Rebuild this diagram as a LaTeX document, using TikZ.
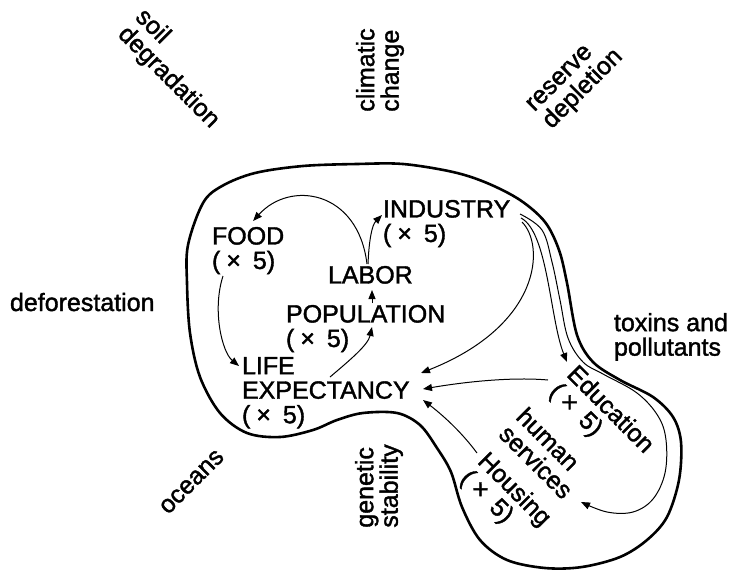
\documentclass[tikz,border=0pt]{standalone}
\usepackage{fontspec}
\setmainfont{Liberation Sans}[FakeBold=1.5]
\usetikzlibrary{arrows.meta,calc}
\newcommand\tfive{(\kern6pt×\kern12pt5)}
\begin{document}
\begin{tikzpicture}[x=1pt,y=-1pt,
  lbl/.style={inner sep=0pt, outer sep=0pt, align=left, font=\fontsize{25}{24.5}\selectfont},
  arr/.style={line width=1pt, -{Triangle[length=9pt,width=7pt]}},
  blob/.style={line width=2.6pt, line join=round}]
\fill[white] (0,0) rectangle (738,570);
% outer labels
\node[lbl, rotate=-45] (soil) at (177,69) {soil\\degradation};
\node[lbl, rotate=90] (climatic) at (380,70) {climatic\\change};
\node[lbl, rotate=45] (reserve) at (576,82) {reserve\\depletion};
\node[lbl, anchor=base west] (defor) at (10,311) {deforestation};
\node[lbl, anchor=north west] (toxins) at (614,313) {toxins and\\pollutants};
\node[lbl, rotate=45] (oceans) at (192,482) {oceans};
\node[lbl, rotate=90] (genetic) at (379,486) {genetic\\stability};
% boundary
\draw[blob] plot[smooth cycle, tension=0.55] coordinates {(188,245) (203,203) (222,186) (255,173) (303,166) (357,164) (403,164) (453,172) (487,183) (520,200) (545,222) (559,250) (567,283) (577,335) (593,362) (620,380) (653,397) (673,417) (681,442) (679,480) (667,517) (647,540) (620,557) (582,567) (545,568) (507,560) (480,540) (462,507) (451,472) (437,448) (420,425) (397,413) (363,413) (337,420) (313,430) (280,437) (247,433) (220,413) (200,377) (190,333) (187,283)};
% inner nodes
\node[lbl, anchor=north west] (food) at (212,227) {FOOD\\\tfive};
\node[lbl, anchor=north west] (industry) at (383,200) {INDUSTRY\\\tfive};
\node[lbl, anchor=north west] (labor) at (328,266) {LABOR};
\node[lbl, anchor=north west] (population) at (286,305) {POPULATION\\\tfive};
\node[lbl, anchor=north west] (life) at (242,357) {LIFE\\EXPECTANCY\\\tfive};
\node[lbl, rotate=-45] (edu) at (601,419) {Education\\\tfive};
\node[lbl, rotate=-45] (hs) at (545,453) {human\\services};
\node[lbl, rotate=-45] (housing) at (505,499) {Housing\\\tfive};
% connectors
\draw[arr] ($(labor.north west)+(39,-2)$) .. controls (358,190) and (290,180) .. ($(food.north)+(5,-6)$);
\draw[arr] ($(labor.north west)+(40,-2)$) .. controls (369,240) and (372,225) .. ($(industry.north west)+(-1,15)$);
\draw[arr] ($(population.north west)+(86,-2)$) -- ($(labor.north west)+(44,24)$);
\draw[arr] ($(life.north west)+(88,20)$) .. controls (350,360) and (368,345) .. ($(population.north west)+(86,22)$);
\draw[arr] ($(food.north west)+(11,49)$) .. controls (212,310) and (222,352) .. ($(life.north west)+(-3,9)$);
\draw[arr] ($(industry.north west)+(139,22)$) .. controls (545,245) and (542,325) .. ($(life.north west)+(179,16)$);
\draw[arr] ($(industry.north west)+(138,18)$) .. controls (548,232) and (550,320) .. ($(edu.center)+(-34,-57)$);
\coordinate (hsstart) at ($(industry.north west)+(137,14)$);
\coordinate (hsend) at ($(hs.center)+(36,49)$);
\draw[arr] plot[smooth, tension=0.6] coordinates {(hsstart) (542,230) (552,262) (560,300) (568,338) (583,362) (603,374) (637,393) (658,416) (666,440) (665,473) (653,499) (633,512) (607,512) (hsend)};
\draw[arr] ($(edu.center)+(-53,-39)$) .. controls (515,377) and (470,381) .. ($(life.north west)+(181,32)$);
\draw[arr] ($(housing.center)+(-28,-46)$) .. controls (460,430) and (440,413) .. ($(life.north west)+(181,43)$);
\end{tikzpicture}
\end{document}
